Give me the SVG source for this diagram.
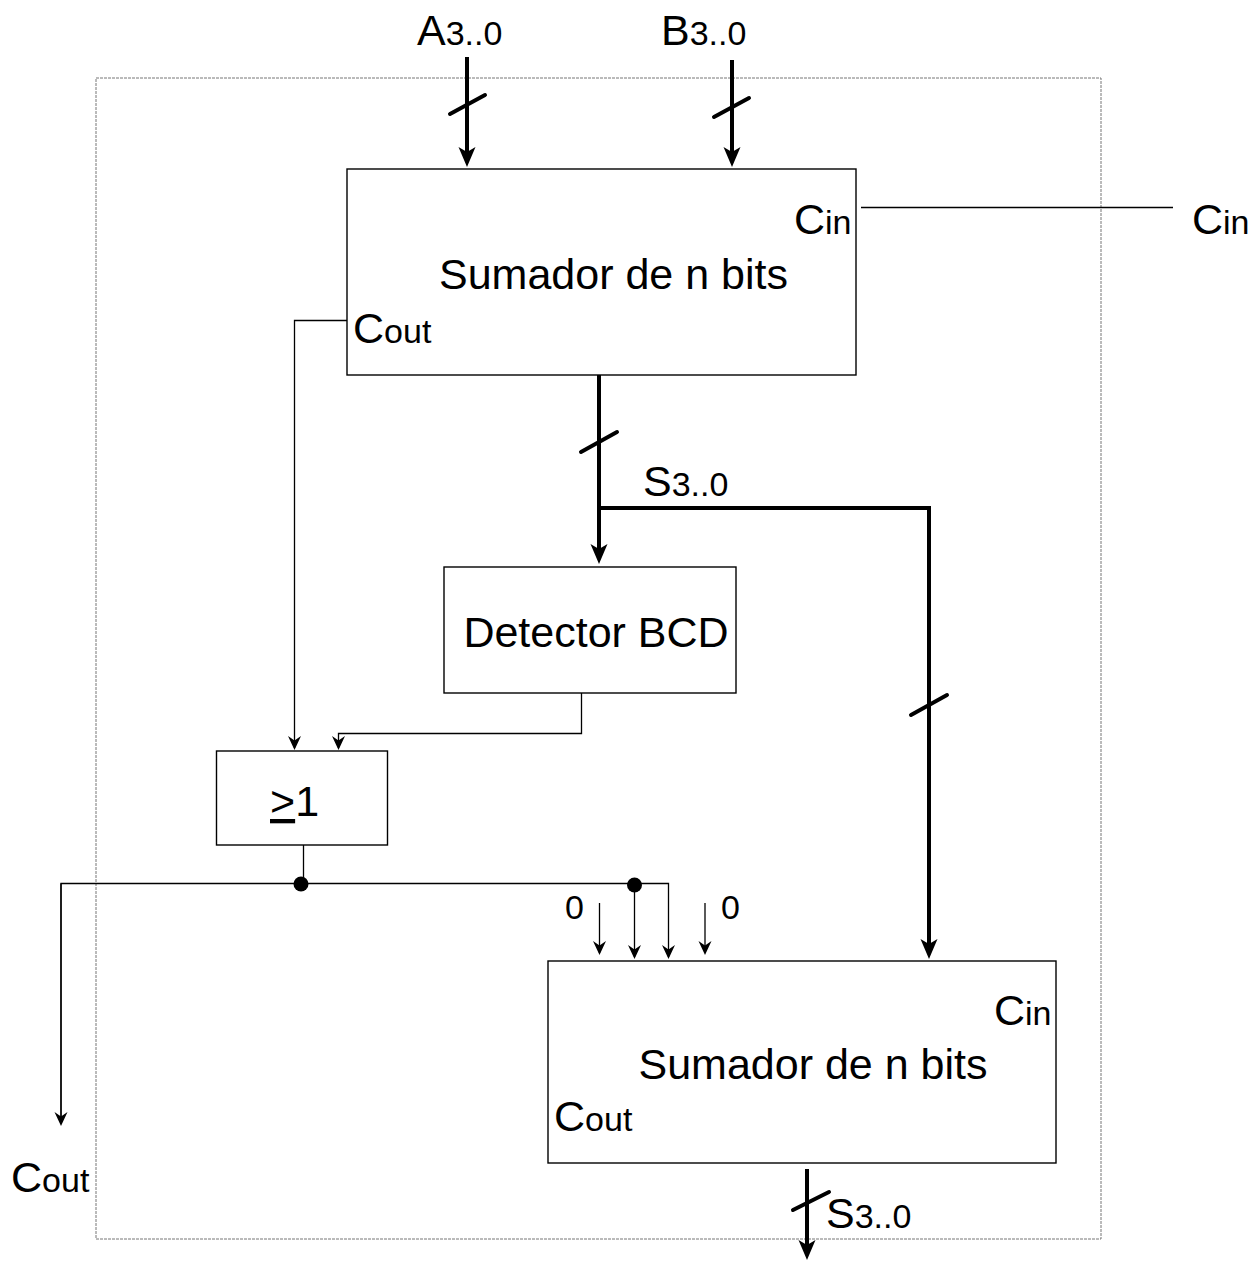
<svg xmlns="http://www.w3.org/2000/svg" width="1259" height="1262" viewBox="0 0 1259 1262">
<style>
text{font-family:"Liberation Sans",Arial,sans-serif;fill:#000}
.big{font-size:43px}
.sub{font-size:34px}
.box{fill:#fff;stroke:#000;stroke-width:1.4}
.frame{fill:none;stroke:#777;stroke-width:1;stroke-dasharray:3 1}
.bus{fill:none;stroke:#000;stroke-width:4}
.wire{fill:none;stroke:#000;stroke-width:1.3}
.slash{stroke:#000;stroke-width:4;stroke-linecap:round}
</style>
<defs>
<marker id="ah" markerUnits="userSpaceOnUse" markerWidth="22" markerHeight="18" refX="12" refY="8.5" orient="auto">
<path d="M0,0 L20,8.5 L0,17 L5,8.5 Z" fill="#000"/>
</marker>
<marker id="as" markerUnits="userSpaceOnUse" markerWidth="16" markerHeight="14" refX="12" refY="6.5" orient="auto">
<path d="M0,0 L14,6.5 L0,13 L4.5,6.5 Z" fill="#000"/>
</marker>
</defs>
<rect class="frame" x="96" y="78" width="1005" height="1161"/>
<g id="connectors">
<line class="bus" x1="467" y1="57" x2="467" y2="159" marker-end="url(#ah)"/>
<line class="slash" x1="450" y1="114" x2="485" y2="95"/>
<line class="bus" x1="732" y1="60" x2="732" y2="159" marker-end="url(#ah)"/>
<line class="slash" x1="714" y1="117" x2="749" y2="98"/>
<line class="wire" x1="861" y1="207.5" x2="1173" y2="207.5"/>
<polyline class="wire" points="347,320.5 294.5,320.5 294.5,748" marker-end="url(#as)"/>
<line class="bus" x1="599" y1="375" x2="599" y2="556" marker-end="url(#ah)"/>
<line class="slash" x1="581" y1="452" x2="617" y2="432"/>
<polyline class="bus" points="599,508 929,508 929,951" marker-end="url(#ah)"/>
<line class="slash" x1="911" y1="715" x2="947" y2="695"/>
<polyline class="wire" points="581.5,693 581.5,733.5 338.5,733.5 338.5,748" marker-end="url(#as)"/>
<line class="wire" x1="303.5" y1="845" x2="303.5" y2="883"/>
<polyline class="wire" points="61,1124 61,883.5 668.5,883.5 668.5,957" marker-end="url(#as)"/>
<line class="wire" x1="634.5" y1="884" x2="634.5" y2="957" marker-end="url(#as)"/>
<line class="wire" x1="599.5" y1="903" x2="599.5" y2="953" marker-end="url(#as)"/>
<line class="wire" x1="705" y1="903" x2="705" y2="953" marker-end="url(#as)"/>
<line class="wire" x1="61" y1="883.5" x2="61" y2="1124" marker-end="url(#as)"/>
<circle cx="301" cy="884" r="7.5" fill="#000"/>
<circle cx="634.5" cy="885" r="7.5" fill="#000"/>
<line class="bus" x1="807" y1="1169" x2="807" y2="1252" marker-end="url(#ah)"/>
<line class="slash" x1="793" y1="1210" x2="829" y2="1192"/>
</g>
<g id="labels">
<text x="417" y="45"><tspan class="big">A</tspan><tspan class="sub">3..0</tspan></text>
<text x="661" y="45"><tspan class="big">B</tspan><tspan class="sub">3..0</tspan></text>
<text x="1192" y="234"><tspan class="big">C</tspan><tspan class="sub">in</tspan></text>
<text x="643" y="496"><tspan class="big">S</tspan><tspan class="sub">3..0</tspan></text>
<text class="sub" x="565" y="919">0</text>
<text class="sub" x="721" y="919">0</text>
<text x="11" y="1192"><tspan class="big">C</tspan><tspan class="sub">out</tspan></text>
<text x="826" y="1228"><tspan class="big">S</tspan><tspan class="sub">3..0</tspan></text>
</g>
<g id="sumador1">
<rect class="box" x="347" y="169" width="509" height="206"/>
<text class="big" x="613.5" y="289" text-anchor="middle">Sumador de n bits</text>
<text x="794" y="234"><tspan class="big">C</tspan><tspan class="sub">in</tspan></text>
<text x="353" y="343"><tspan class="big">C</tspan><tspan class="sub">out</tspan></text>
</g>
<g id="detector">
<rect class="box" x="444" y="567" width="292" height="126"/>
<text class="big" x="596" y="647" text-anchor="middle">Detector BCD</text>
</g>
<g id="or">
<rect class="box" x="216.5" y="751" width="171" height="94"/>
<text class="big" x="270" y="816"><tspan text-decoration="underline">&gt;</tspan>1</text>
</g>
<g id="sumador2">
<rect class="box" x="548" y="961" width="508" height="202"/>
<text class="big" x="813" y="1079" text-anchor="middle">Sumador de n bits</text>
<text x="994" y="1025"><tspan class="big">C</tspan><tspan class="sub">in</tspan></text>
<text x="554" y="1131"><tspan class="big">C</tspan><tspan class="sub">out</tspan></text>
</g>
</svg>
